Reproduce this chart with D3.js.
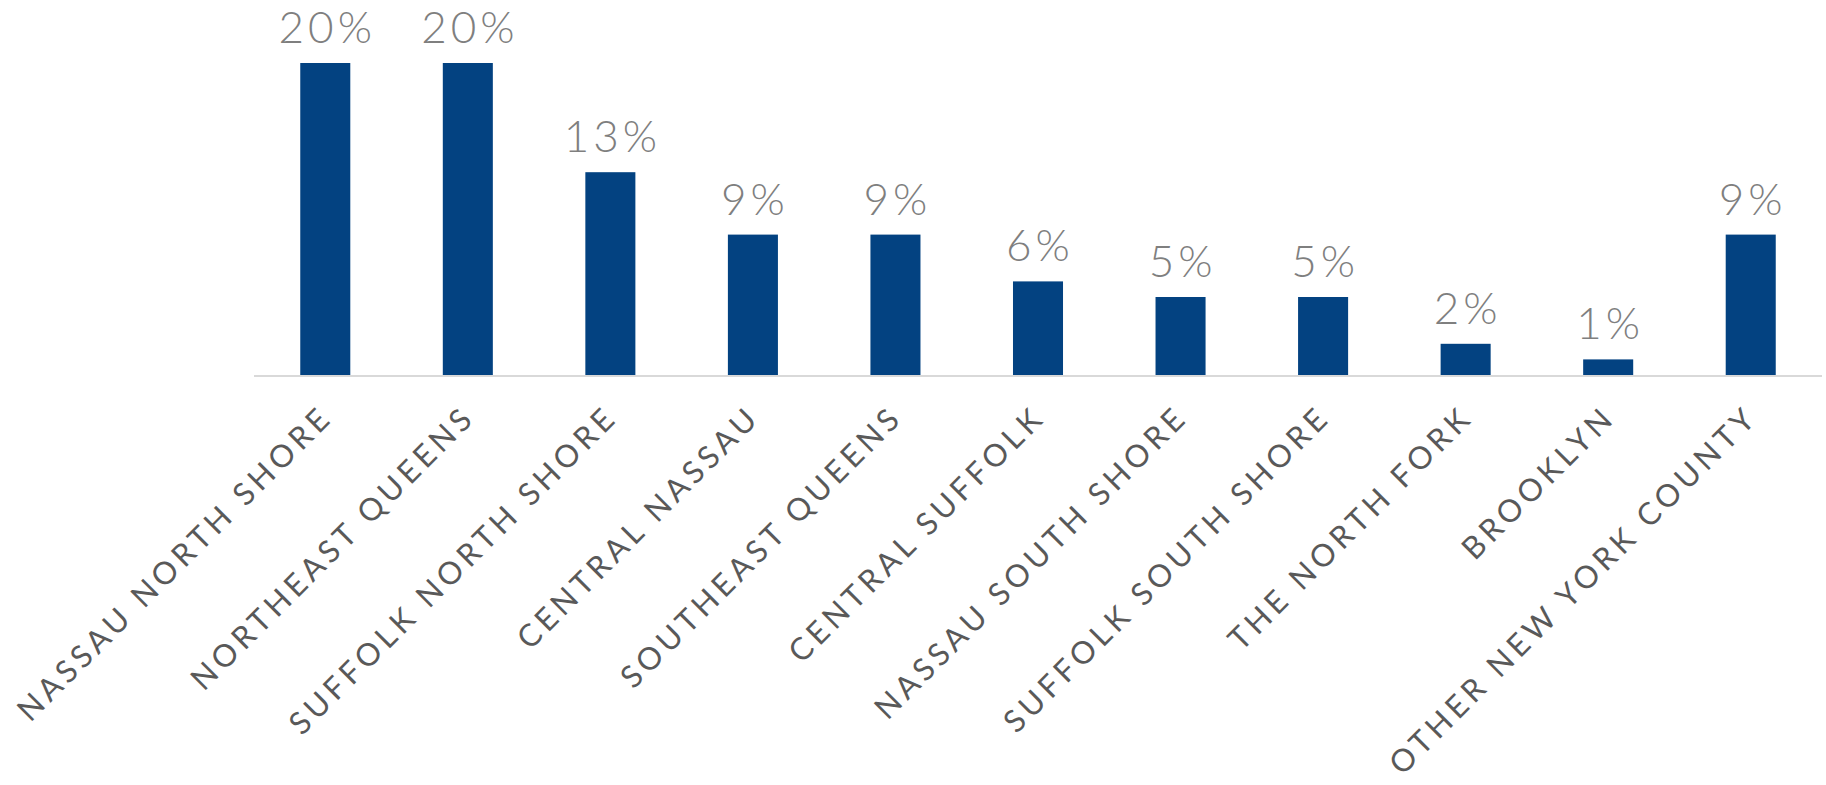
<!DOCTYPE html>
<html>
<head>
<meta charset="utf-8">
<script src="https://cdn.jsdelivr.net/npm/d3@7"></script>
<style>
  html, body { margin: 0; padding: 0; background: #ffffff; }
  svg { display: block; }
</style>
</head>
<body>
<svg id="chart" width="1826" height="785"></svg>
<script>
// Share of respondents by region
const regions = [
  "NASSAU NORTH SHORE",
  "NORTHEAST QUEENS",
  "SUFFOLK NORTH SHORE",
  "CENTRAL NASSAU",
  "SOUTHEAST QUEENS",
  "CENTRAL SUFFOLK",
  "NASSAU SOUTH SHORE",
  "SUFFOLK SOUTH SHORE",
  "THE NORTH FORK",
  "BROOKLYN",
  "OTHER NEW YORK COUNTY"
];
const shares = [20, 20, 13, 9, 9, 6, 5, 5, 2, 1, 9];

const width = 1826, height = 785;
const margin = { top: 63, right: 4, bottom: 410, left: 254 };
const svg = d3.select("#chart");

const x = d3.scaleBand()
  .domain(regions)
  .range([margin.left, width - margin.right])
  .paddingInner(0.649)
  .paddingOuter(0.3245);

const y = d3.scaleLinear()
  .domain([0, 20])
  .range([height - margin.bottom, margin.top]);

const baseY = y(0);

// bars
svg.append("g")
  .selectAll("rect")
  .data(regions)
  .join("rect")
  .attr("x", d => x(d))
  .attr("y", (d, i) => y(shares[i]))
  .attr("width", x.bandwidth())
  .attr("height", (d, i) => baseY - y(shares[i]))
  .attr("fill", "#034281");

// category axis line
svg.append("line")
  .attr("x1", margin.left)
  .attr("x2", width - margin.right)
  .attr("y1", baseY + 1)
  .attr("y2", baseY + 1)
  .attr("stroke", "#d9d9d9")
  .attr("stroke-width", 2);

// value labels above bars (trailing letter-spacing offset by +2)
svg.append("g")
  .selectAll("text")
  .data(regions)
  .join("text")
  .attr("x", d => x(d) + x.bandwidth() / 2 + 2)
  .attr("y", (d, i) => y(shares[i]) - 20)
  .attr("text-anchor", "middle")
  .attr("font-family", "Lato, 'Open Sans', sans-serif")
  .attr("font-weight", 300)
  .attr("font-size", 44)
  .attr("letter-spacing", 4)
  .attr("fill", "#7f7f7f")
  .text((d, i) => shares[i] + "%");

// rotated category labels
svg.append("g")
  .selectAll("text")
  .data(regions)
  .join("text")
  .attr("transform", d => `translate(${x(d) + x.bandwidth() / 2 + 9},${baseY + 44}) rotate(-45)`)
  .attr("text-anchor", "end")
  .attr("font-family", "Lato, 'Open Sans', sans-serif")
  .attr("font-weight", 400)
  .attr("font-size", 31)
  .attr("letter-spacing", 4.5)
  .attr("fill", "#595959")
  .text(d => d);
</script>
</body>
</html>
